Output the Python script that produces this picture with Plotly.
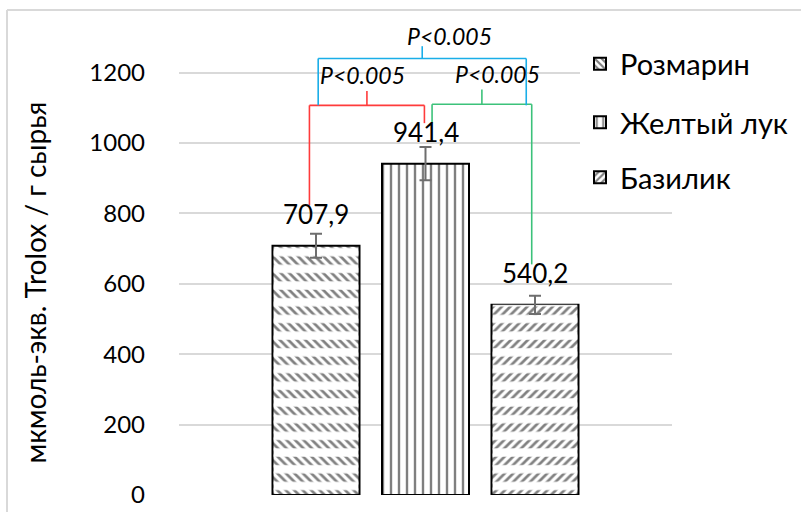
import plotly.graph_objects as go

# ---------------- data ----------------
series = ["Розмарин", "Желтый лук", "Базилик"]
values = [707.9, 941.4, 540.2]
errors = [34, 47, 26]
value_labels = ["707,9", "941,4", "540,2"]
y_ticks = [0, 200, 400, 600, 800, 1000, 1200]
comparisons = [(0, 1, "P<0.005"), (1, 2, "P<0.005"), (0, 2, "P<0.005")]
y_title = "мкмоль-экв. Trolox / г сырья"

# ---------------- layout constants ----------------
W_PX, H_PX = 801, 512
L, R, T, B = 179, 672, 10, 495
FONT = "Lato, 'Open Sans', sans-serif"
PX_PER_UNIT = 70.4 / 200.0
Y_MAX = (B - T) / PX_PER_UNIT
SLOT_PX = 109.5
X_HALF = (R - L) / SLOT_PX / 2.0
BAR_W = 87 / SLOT_PX


def paper_x(px):
    return (px - L) / (R - L)


def paper_y(py):
    return (B - py) / (B - T)


styles = [
    dict(shape="\\", size=6, solidity=0.45, rows=True),
    dict(shape="|", size=8, solidity=0.3, rows=False),
    dict(shape="/", size=6, solidity=0.45, rows=True),
]
legend_ids = ["legend", "legend2", "legend3"]
legend_text_y_px = [64, 122.5, 177.5]

fig = go.Figure()
for i, (name, v, e) in enumerate(zip(series, values, errors)):
    st = styles[i]
    fig.add_trace(go.Bar(
        x=[i], y=[v], width=BAR_W, name=name, legend=legend_ids[i],
        marker=dict(color="white", line=dict(color="black", width=2),
                    pattern=dict(shape=st["shape"], fgcolor="black", bgcolor="white",
                                 size=st["size"], solidity=st["solidity"])),
        hoverinfo="skip",
    ))
    if st["rows"]:
        fig.add_trace(go.Bar(
            x=[i], y=[v], width=BAR_W - 2.4 / SLOT_PX, showlegend=False,
            marker=dict(color="rgba(255,255,255,0.01)", line=dict(width=0),
                        pattern=dict(shape="-", fgcolor="#ffffff", fgopacity=1,
                                     bgcolor="rgba(255,255,255,0.01)",
                                     size=16.7, solidity=0.5)),
            hoverinfo="skip",
        ))
    fig.add_trace(go.Scatter(
        x=[i], y=[v], mode="markers", showlegend=False,
        marker=dict(size=2, color="rgba(0,0,0,0)"),
        error_y=dict(type="data", array=[e], color="#6e6e6e", thickness=2, width=6),
        hoverinfo="skip",
    ))

annotations = []
# value labels
for i, (v, lab) in enumerate(zip(values, value_labels)):
    annotations.append(dict(x=i, y=v, xref="x", yref="y", text=lab, showarrow=False,
                            yanchor="bottom", yshift=14,
                            font=dict(family=FONT, size=26, color="black")))

# significance brackets
bracket_colors = ["#ff3b3b", "#3cc27a", "#1aaee8"]
bracket_levels = [1107, 1110, 1240]
tick_tops = [1148, 1152, 1275]
x_offsets = [(-0.06, -0.01), (0.06, -0.03), (0.02, -0.08)]
drop_extra = 115
text_xshift = [-4, 16, 27]
text_yshift = [16, 16, 10]
shapes = []
for k, (a, b, txt) in enumerate(comparisons):
    col = bracket_colors[k]
    lvl = bracket_levels[k]
    xa = a + x_offsets[k][0]
    xb = b + x_offsets[k][1]
    if k < 2:
        ya = values[a] + drop_extra
        yb = values[b] + drop_extra
    else:
        ya = yb = bracket_levels[0]
    ln = dict(color=col, width=1.6)
    shapes.append(dict(type="line", xref="x", yref="y", x0=xa, x1=xa, y0=ya, y1=lvl, line=ln))
    shapes.append(dict(type="line", xref="x", yref="y", x0=xa, x1=xb, y0=lvl, y1=lvl, line=ln))
    shapes.append(dict(type="line", xref="x", yref="y", x0=xb, x1=xb, y0=yb, y1=lvl, line=ln))
    xm = (xa + xb) / 2
    shapes.append(dict(type="line", xref="x", yref="y", x0=xm, x1=xm, y0=lvl, y1=tick_tops[k], line=ln))
    annotations.append(dict(x=xm, y=tick_tops[k], xref="x", yref="y", text="<i>%s</i>" % txt,
                            showarrow=False, yanchor="middle", xshift=text_xshift[k],
                            yshift=text_yshift[k],
                            font=dict(family=FONT, size=23, color="black")))

# y-axis title
annotations.append(dict(x=paper_x(34), y=paper_y(282.5), xref="paper", yref="paper",
                        text=y_title, textangle=-90, showarrow=False,
                        xanchor="center", yanchor="middle",
                        font=dict(family=FONT, size=28, color="black")))

# chart border (left and top edges visible)
border = dict(color="#d9d9d9", width=2)
shapes.append(dict(type="line", xref="paper", yref="paper", layer="below",
                   x0=paper_x(7), x1=paper_x(7), y0=paper_y(10), y1=paper_y(530), line=border))
shapes.append(dict(type="line", xref="paper", yref="paper", layer="below",
                   x0=paper_x(7), x1=paper_x(820), y0=paper_y(10), y1=paper_y(10), line=border))

legend_common = dict(xanchor="left", yanchor="middle", bgcolor="white",
                     font=dict(family=FONT, size=29, color="black"),
                     itemwidth=30, borderwidth=0)
layout_legends = {}
for i, lid in enumerate(legend_ids):
    layout_legends[lid] = dict(legend_common, x=paper_x(580), y=paper_y(legend_text_y_px[i]))

fig.update_layout(
    width=W_PX, height=H_PX,
    margin=dict(l=L, r=W_PX - R, t=T, b=H_PX - B, pad=0, autoexpand=False),
    paper_bgcolor="white", plot_bgcolor="white",
    barmode="overlay",
    showlegend=True,
    xaxis=dict(range=[1 - X_HALF, 1 + X_HALF], showticklabels=False, showgrid=False,
               zeroline=False, showline=False, ticks="", automargin=False),
    yaxis=dict(range=[0, Y_MAX], tickvals=y_ticks, ticktext=[str(t) for t in y_ticks],
               showgrid=True, gridcolor="#d9d9d9", gridwidth=1.5, zeroline=False,
               showline=False, ticks="", ticklabelstandoff=33, automargin=False,
               tickfont=dict(family=FONT, size=24, color="black")),
    shapes=shapes,
    annotations=annotations,
    **layout_legends,
)

fig.write_html("out.html")
